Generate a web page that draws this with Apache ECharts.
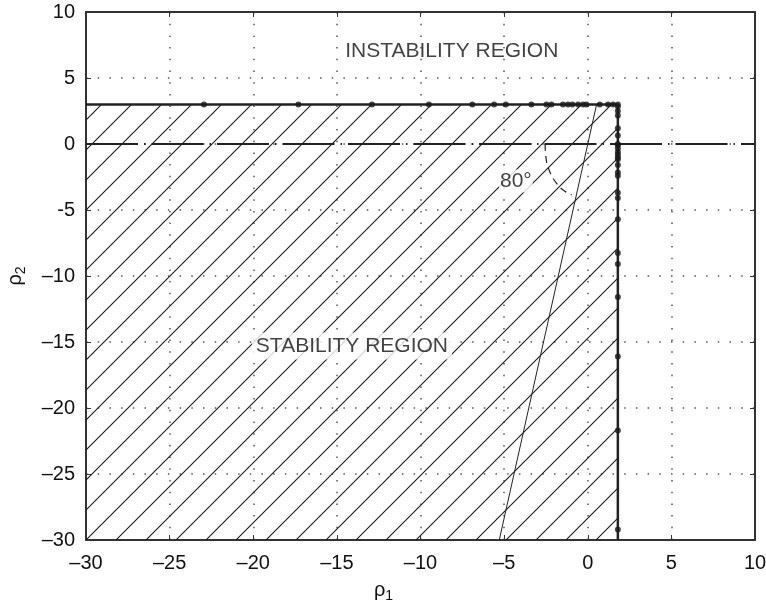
<!DOCTYPE html>
<html>
<head>
<meta charset="utf-8">
<script src="https://cdn.jsdelivr.net/npm/echarts@6/dist/echarts.min.js"></script>
<style>
html,body{margin:0;padding:0;background:#fff;}
#chart{width:766px;height:604px;}
</style>
</head>
<body>
<div id="chart"></div>
<script>
// ---- data ----
const xTickValues = [-30, -25, -20, -15, -10, -5, 0, 5, 10];
const xTickLabels = ['\u201330', '\u201325', '\u201320', '\u201315', '\u201310', '\u20135', '0', '5', '10'];
const yTickValues = [-30, -25, -20, -15, -10, -5, 0, 5, 10];
const yTickLabels = ['\u201330', '\u201325', '\u201320', '\u201315', '\u201310', '-5', '0', '5', '10'];

const boundaryRho1 = 1.8;   // right edge of stability region
const boundaryRho2 = 3;     // top edge of stability region
const regionCorner = [-30, -30];

// dots along top boundary (rho1 values, rho2 = 3)
const topDotsRho1 = [-22.95, -17.3, -12.9, -9.5, -6.9, -5.6, -4.9, -3.37, -2.47, -2.17, -1.48, -1.18, -0.92, -0.58, -0.28, -0.08, 0.72, 1.21, 1.51, 1.8];
// dots along right boundary (rho2 values, rho1 = 1.8)
const rightDotsRho2 = [2.85, 2.5, 2.15, 1.2, 0.65, 0, -0.1, -0.35, -0.6, -0.8, -1.0, -1.15, -1.6, -2.15, -2.4, -3.7, -4.1, -5.7, -8.25, -9.1, -11.6, -16.1, -21.7, -29.2];

// 80 degree line through the origin
const slopedLine = [[-5.29, -30], [0.53, 3]];
// dashed arc marking the 80 degree angle
const arcPoints = [[-2.55, 0], [-2.5, -1.0], [-2.3, -2.0], [-1.85, -3.0], [-1.35, -3.6], [-0.95, -3.85]];
// dash-dot zero line
const zeroLine = [[-30, 0], [10, 0]];

// ---- hatch pattern ----
function makeHatch() {
  const c = document.createElement('canvas');
  c.width = 30; c.height = 30;
  const g = c.getContext('2d');
  g.strokeStyle = '#1a1a1a';
  g.lineWidth = 1.1;
  g.beginPath();
  g.moveTo(-2, 28); g.lineTo(28, -2);
  g.moveTo(24, 32); g.lineTo(32, 24);
  g.stroke();
  return c;
}

const xLabelMap = {}; xTickValues.forEach((v, i) => xLabelMap[v] = xTickLabels[i]);
const yLabelMap = {}; yTickValues.forEach((v, i) => yLabelMap[v] = yTickLabels[i]);

const FONT = "'Liberation Sans', Arial, Helvetica, sans-serif";
const INK = '#111';

const chart = echarts.init(document.getElementById('chart'), null, {renderer: 'canvas'});

const axisCommon = {
  type: 'value', min: -30, max: 10, interval: 5,
  axisLine: {show: true, onZero: false, lineStyle: {color: '#333', width: 2}},
  axisTick: {show: true, inside: true, length: 5, lineStyle: {color: '#333', width: 1}}
};

const option = {
  animation: false,
  backgroundColor: '#fff',
  grid: {left: 86, right: 11, top: 12, bottom: 64, containLabel: false, outerBoundsMode: 'none'},
  xAxis: [
    Object.assign({}, axisCommon, {
      position: 'bottom',
      name: '\u03c1{s|1}',
      nameLocation: 'middle',
      nameGap: 37,
      nameTextStyle: {fontFamily: FONT, fontSize: 20, color: INK, padding: [0, 74, 0, 0], rich: {s: {fontFamily: FONT, fontSize: 14, color: INK, verticalAlign: 'bottom', padding: [12, 0, 0, 0]}}},
      axisLabel: {show: true, margin: 13, fontFamily: FONT, fontSize: 20, color: INK, formatter: v => xLabelMap[v] !== undefined ? xLabelMap[v] : ''},
      splitLine: {show: true, lineStyle: {type: [1.5, 10.2], width: 1.5, color: '#555'}}
    }),
    Object.assign({}, axisCommon, {
      position: 'top',
      axisLabel: {show: false},
      splitLine: {show: false}
    })
  ],
  yAxis: [
    Object.assign({}, axisCommon, {
      position: 'left',
      name: '\u03c1{s|2}',
      nameLocation: 'middle',
      nameGap: 58,
      nameRotate: 90,
      nameTextStyle: {fontFamily: FONT, fontSize: 20, color: INK, rich: {s: {fontFamily: FONT, fontSize: 14, color: INK, verticalAlign: 'bottom', padding: [12, 0, 0, 0]}}},
      axisLabel: {show: true, margin: 11, fontFamily: FONT, fontSize: 20, color: INK, formatter: v => yLabelMap[v] !== undefined ? yLabelMap[v] : ''},
      splitLine: {show: true, lineStyle: {type: [1.5, 10.2], width: 1.5, color: '#555'}}
    }),
    Object.assign({}, axisCommon, {
      position: 'right',
      axisLabel: {show: false},
      splitLine: {show: false}
    })
  ],
  series: [
    { // hatched stability region
      type: 'line', xAxisIndex: 0, yAxisIndex: 0, z: 1,
      data: [[regionCorner[0], boundaryRho2], [boundaryRho1, boundaryRho2]],
      symbol: 'none',
      lineStyle: {width: 0, opacity: 0},
      areaStyle: {origin: 'start', opacity: 1, color: {image: makeHatch(), repeat: 'repeat'}}
    },
    { // zero dash-dot line
      type: 'line', xAxisIndex: 0, yAxisIndex: 0, z: 3,
      data: zeroLine, symbol: 'none',
      lineStyle: {color: '#222', width: 2, type: [52, 6, 1.5, 6]}
    },
    { // 80 degree line
      type: 'line', xAxisIndex: 0, yAxisIndex: 0, z: 3,
      data: slopedLine, symbol: 'none',
      lineStyle: {color: '#222', width: 1}
    },
    { // angle arc
      type: 'line', xAxisIndex: 0, yAxisIndex: 0, z: 3,
      data: arcPoints, symbol: 'none', smooth: true,
      lineStyle: {color: '#222', width: 1.2, type: [7, 5]}
    },
    { // boundary
      type: 'line', xAxisIndex: 0, yAxisIndex: 0, z: 4,
      data: [[regionCorner[0], boundaryRho2], [boundaryRho1, boundaryRho2], [boundaryRho1, regionCorner[1]]],
      symbol: 'none',
      lineStyle: {color: '#222', width: 2.5}
    },
    { // dots top
      type: 'scatter', xAxisIndex: 0, yAxisIndex: 0, z: 5,
      data: topDotsRho1.map(v => [v, boundaryRho2]),
      symbol: 'circle', symbolSize: 6,
      itemStyle: {color: '#1a1a1a'}
    },
    { // dots right
      type: 'scatter', xAxisIndex: 0, yAxisIndex: 0, z: 5,
      data: rightDotsRho2.map(v => [boundaryRho1, v]),
      symbol: 'circle', symbolSize: 6,
      itemStyle: {color: '#1a1a1a'}
    },
    { // text annotations
      type: 'scatter', xAxisIndex: 0, yAxisIndex: 0, z: 6,
      symbolSize: 1,
      itemStyle: {color: 'rgba(0,0,0,0)'},
      data: [
        {name: 'INSTABILITY REGION', value: [-8.13, 7.03], label: {backgroundColor: 'transparent'}},
        {name: 'STABILITY REGION', value: [-14.1, -15.3]},
        {name: '80\u00b0', value: [-4.3, -2.8], label: {padding: [1, 1]}}
      ],
      label: {
        show: true, position: 'inside', formatter: '{b}',
        fontFamily: FONT, fontSize: 21, color: INK,
        backgroundColor: '#fff', padding: [3, 4]
      }
    }
  ]
};

chart.setOption(option);
</script>
</body>
</html>
